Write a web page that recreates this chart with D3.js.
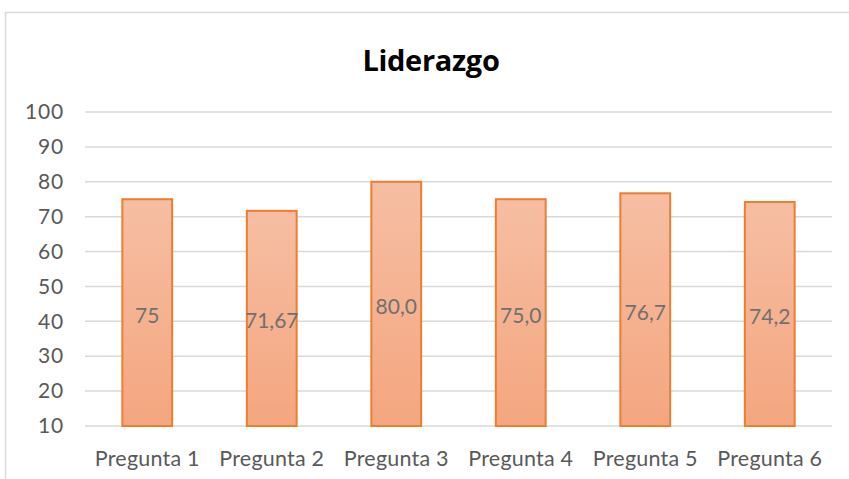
<!DOCTYPE html>
<html><head><meta charset="utf-8">
<script src="https://cdn.jsdelivr.net/npm/d3@7"></script>
<style>html,body{margin:0;padding:0;background:#fff;overflow:hidden}</style>
</head><body>
<svg id="c" width="849" height="479"></svg>
<script>
const categories = ["Pregunta 1","Pregunta 2","Pregunta 3","Pregunta 4","Pregunta 5","Pregunta 6"];
const values = [75, 71.67, 80.0, 75.0, 76.7, 74.2];
const valueLabels = ["75","71,67","80,0","75,0","76,7","74,2"];
const yTicks = [10,20,30,40,50,60,70,80,90,100];
const title = "Liderazgo";

const svg = d3.select("#c");
const font = "Lato, 'Open Sans', sans-serif";

svg.append("rect").attr("x",5.5).attr("y",12.5).attr("width",900).attr("height",500)
  .attr("fill","#fff").attr("stroke","#d9d9d9").attr("stroke-width",1.5);

const x = d3.scaleBand().domain(categories).range([85,832]).paddingInner(0.6).paddingOuter(0.3);
const y = d3.scaleLinear().domain([10,100]).range([426,112]);

const defs = svg.append("defs");
const g = defs.append("linearGradient").attr("id","bg").attr("x1",0).attr("y1",0).attr("x2",0).attr("y2",1);
g.append("stop").attr("offset","0%").attr("stop-color","#f6bea3");
g.append("stop").attr("offset","100%").attr("stop-color","#f4a67f");

svg.append("text").attr("x",431).attr("y",71).attr("text-anchor","middle")
  .attr("font-family","'Open Sans', sans-serif").attr("font-weight","bold").attr("font-size",29)
  .attr("letter-spacing",-0.3)
  .attr("fill","#000").text(title);

const grid = svg.append("g");
grid.selectAll("line").data(yTicks).join("line")
  .attr("x1",85).attr("x2",832).attr("y1",d=>y(d)).attr("y2",d=>y(d))
  .attr("stroke","#d9d9d9").attr("stroke-width",1.5);

const yAxis = svg.append("g").attr("transform","translate(64,0)")
  .call(d3.axisLeft(y).tickValues(yTicks).tickSize(0).tickPadding(0));
yAxis.select(".domain").remove();
yAxis.selectAll("text").attr("font-family",font).attr("font-size",21).attr("letter-spacing",0.8).attr("fill","#595959");

svg.selectAll("rect.bar").data(values).join("rect").attr("class","bar")
  .attr("x",(d,i)=>x(categories[i])).attr("width",x.bandwidth())
  .attr("y",d=>y(d)).attr("height",d=>y(10)-y(d))
  .attr("fill","url(#bg)").attr("stroke","#ed7d31").attr("stroke-width",2);

svg.selectAll("text.lbl").data(values).join("text").attr("class","lbl")
  .attr("x",(d,i)=>x(categories[i])+x.bandwidth()/2)
  .attr("y",d=>(y(d)+y(10))/2+10)
  .attr("text-anchor","middle").attr("font-family",font).attr("font-size",21)
  .attr("fill","#707070").text((d,i)=>valueLabels[i]);

const xAxis = svg.append("g").attr("transform","translate(0,426)")
  .call(d3.axisBottom(x).tickSize(0).tickPadding(25));
xAxis.select(".domain").remove();
xAxis.selectAll("text").attr("font-family",font).attr("font-size",21.5).attr("letter-spacing",0.2).attr("fill","#595959");
</script>
</body></html>
